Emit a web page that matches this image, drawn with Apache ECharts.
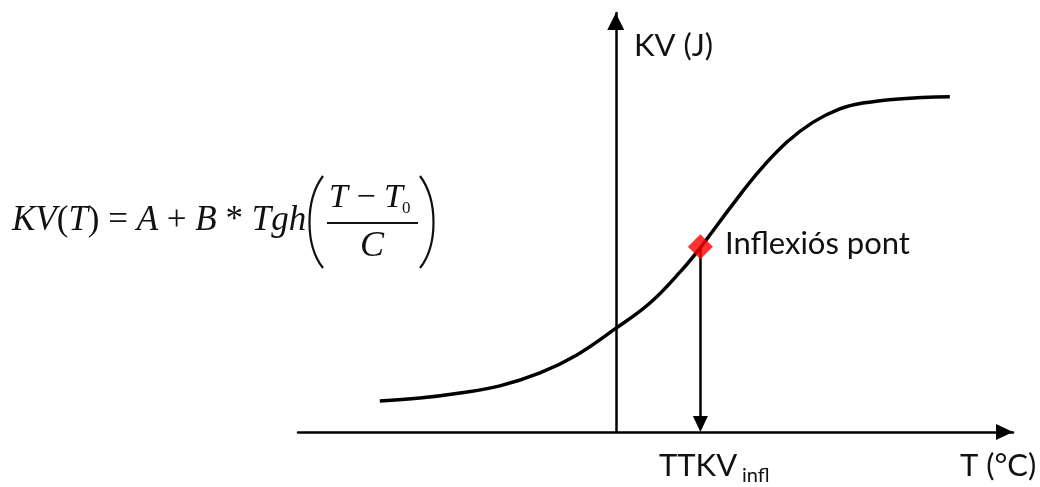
<!DOCTYPE html>
<html>
<head>
<meta charset="utf-8">
<script src="https://cdn.jsdelivr.net/npm/echarts@6/dist/echarts.min.js"></script>
<style>
  html, body { margin: 0; padding: 0; background: #fff; }
  #JS_Curve { width: 1040px; height: 487px; }
</style>
</head>
<body>
<div id="JS_Curve"></div>
<script>
// temperature (arbitrary units, 0 = where the KV axis stands) and impact energy
const temps = [-59.4, -49.3, -39.2, -29.2, -19.1, -9.8, -0.2, 8.6, 16.2, 21.2, 29.5, 36.3, 43.1, 49.6, 56.4, 62.2, 71.3, 84.1];
const kvValues = [7.4, 8.1, 9.3, 11.0, 14.1, 18.4, 24.6, 30.8, 38.2, 43.9, 54.4, 62.5, 69.2, 73.9, 77.1, 78.5, 79.5, 80.0];
const inflTemp = 21.3;
const inflKV = 44.2;
// arrow from the inflexion point stops just above the T axis so its tip touches it
const arrowEndKV = 1.9;

const serif = '"Liberation Serif", "Times New Roman", serif';
const sans = 'Lato, "Open Sans", sans-serif';

let option;

function initOpt() {
  option = {
    animation: false,
    grid: { left: 298, right: 27, top: 13, bottom: 55 },
    xAxis: {
      type: "value",
      min: -80,
      max: 100,
      axisLine: {
        onZero: true,
        symbol: ["none", "triangle"],
        symbolSize: [16, 17],
        symbolOffset: [0, -8.5],
        lineStyle: { color: "#000", width: 2.5 },
      },
      axisTick: { show: false },
      axisLabel: { show: false },
      splitLine: { show: false },
    },
    yAxis: {
      type: "value",
      min: 0,
      max: 100,
      axisLine: {
        show: true,
        onZero: true,
        symbol: ["none", "triangle"],
        symbolSize: [17, 17],
        symbolOffset: [0, -8.5],
        lineStyle: { color: "#000", width: 2.5 },
      },
      axisTick: { show: false },
      axisLabel: { show: false },
      splitLine: { show: false },
    },
    series: [
      {
        type: "line",
        data: temps.map((t, i) => [t, kvValues[i]]),
        smooth: 0.4,
        showSymbol: false,
        lineStyle: { color: "#000", width: 3.5 },
        z: 3,
        markLine: {
          silent: true,
          symbol: ["none", "triangle"],
          symbolSize: [15, 16],
          label: { show: false },
          lineStyle: { color: "#000", width: 2.5, type: "solid" },
          data: [[{ coord: [inflTemp, inflKV] }, { coord: [inflTemp, arrowEndKV] }]],
        },
      },
      {
        type: "scatter",
        data: [[inflTemp, inflKV]],
        symbol: "diamond",
        symbolSize: [25, 25],
        itemStyle: { color: "#ff0000" },
        z: 5,
      },
    ],
    graphic: [
      { type: "text", left: 634, top: 30, style: { text: "KV (J)", font: "31px " + sans, fill: "#111" } },
      { type: "text", left: 725, top: 228, style: { text: "Inflexiós pont", font: "31px " + sans, fill: "#111" } },
      { type: "text", left: 659, top: 450, style: { text: "TTKV", font: "31px " + sans, fill: "#111" } },
      { type: "text", left: 742, top: 466, style: { text: "infl", font: "20px " + sans, fill: "#111" } },
      { type: "text", left: 960, top: 450, style: { text: "T (°C)", font: "31px " + sans, fill: "#111" } },
      {
        type: "text", left: 12, top: 203,
        style: {
          text: "{i|KV}{r|(}{i|T}{r|) = }{i|A}{r| + }{i|B}{r| * }{i|Tgh}",
          rich: {
            i: { font: "italic 35px " + serif, fill: "#111" },
            r: { font: "35px " + serif, fill: "#111" },
          },
        },
      },
      {
        type: "text", left: 329, top: 181,
        style: {
          text: "{i|T}{r| − }{i|T}",
          rich: {
            i: { font: "italic 34px " + serif, fill: "#111" },
            r: { font: "34px " + serif, fill: "#111" },
          },
        },
      },
      { type: "text", left: 402, top: 200, style: { text: "0", font: "17px " + serif, fill: "#111" } },
      { type: "line", shape: { x1: 327, y1: 223, x2: 418, y2: 223 }, style: { stroke: "#111", lineWidth: 2 } },
      { type: "text", left: 360, top: 229, style: { text: "C", font: "italic 36px " + serif, fill: "#111" } },
      {
        type: "bezierCurve",
        shape: { x1: 323, y1: 176, cpx1: 305, cpy1: 200, cpx2: 305, cpy2: 245, x2: 323, y2: 268 },
        style: { stroke: "#111", lineWidth: 2.2, fill: null },
      },
      {
        type: "bezierCurve",
        shape: { x1: 420, y1: 176, cpx1: 438, cpy1: 200, cpx2: 438, cpy2: 245, x2: 420, y2: 268 },
        style: { stroke: "#111", lineWidth: 2.2, fill: null },
      },
    ],
  };
}

function initView() {
  initOpt();
  const chartDom = document.getElementById("JS_Curve");
  const curveChart = echarts.init(chartDom);
  option && curveChart.setOption(option);
}

initView();
</script>
</body>
</html>
